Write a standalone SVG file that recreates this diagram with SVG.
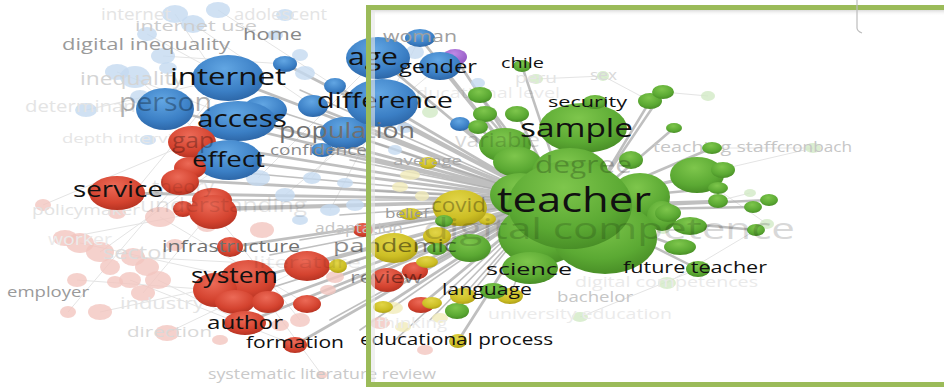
<svg xmlns="http://www.w3.org/2000/svg" width="944" height="389" viewBox="0 0 944 389">
<defs>
<radialGradient id="gB" cx="45%" cy="30%" r="75%"><stop offset="0" stop-color="#62a6e3"/><stop offset="0.65" stop-color="#3b7fc5"/><stop offset="1" stop-color="#2a62a2"/></radialGradient>
<radialGradient id="gR" cx="45%" cy="30%" r="75%"><stop offset="0" stop-color="#ec6a57"/><stop offset="0.65" stop-color="#d4432f"/><stop offset="1" stop-color="#b03020"/></radialGradient>
<radialGradient id="gG" cx="45%" cy="30%" r="75%"><stop offset="0" stop-color="#7ec64c"/><stop offset="0.65" stop-color="#5ba933"/><stop offset="1" stop-color="#458924"/></radialGradient>
<radialGradient id="gY" cx="45%" cy="30%" r="75%"><stop offset="0" stop-color="#e2d548"/><stop offset="0.65" stop-color="#ccbe24"/><stop offset="1" stop-color="#a99a14"/></radialGradient>
<radialGradient id="gP" cx="45%" cy="30%" r="75%"><stop offset="0" stop-color="#c08ae6"/><stop offset="1" stop-color="#8f52c0"/></radialGradient>
<linearGradient id="shadow" x1="0" y1="0" x2="0" y2="1"><stop offset="0" stop-color="#cfcfcf"/><stop offset="1" stop-color="#ffffff" stop-opacity="0"/></linearGradient>
<style>
.b{fill:url(#gB)} .r{fill:url(#gR)} .g{fill:url(#gG)} .y{fill:url(#gY)} .p{fill:url(#gP)}
.fb{fill:#c4daf0;opacity:.8} .fr{fill:#f3c5bf;opacity:.8} .fg{fill:#d2eac5;opacity:.8} .fy{fill:#f1ebb9;opacity:.8}
text{font-family:"Open Sans","DejaVu Sans",sans-serif}
.k{fill:#111} .m{fill:#707070} .g9{fill:#9a9a9a} .la{fill:#c6c6c6} .xl{fill:#e4e4e4}
.sh{fill:#000}
.c{stroke:#a9a9a9;stroke-opacity:.75;fill:none;stroke-linecap:round}
.w{stroke:#e4e4e4;stroke-width:1;fill:none}
</style>
</defs>
<rect width="944" height="389" fill="#ffffff"/>

<g id="connectors">
<g class="w">
<path d="M135 76L229 160M86 110L228 78M117 72L240 120M163 56L285 64M147 34L228 78M175 14L245 118M193 24L313 106M218 10L335 86M65 238L212 210M80 243L248 280M100 252L229 160M133 257L307 266M158 280L245 323M130 280L295 345M77 280L215 290M43 205L192 142M160 217L307 304M100 312L248 280M167 333L307 266M143 293L213 210M117 213L228 78M300 320L212 210M322 375L268 302M68 312L180 180M258 178L378 58M285 195L440 66M330 210L420 38M312 178L345 133"/>
<path d="M697 175L813 148M663 92L708 96M712 148L813 148M697 175L767 224M603 76L650 101M536 79L603 76M667 283L756 230M580 317L698 269M718 201L750 193"/>
</g>
<g class="c" stroke-width="2.8">
<path d="M228 78L548 200M243 118L548 200M229 160L548 200M117 193L548 200M213 210L548 200M230 247L548 200M248 280L548 200M268 302L548 200M245 323L548 200M295 345L548 200M307 266L548 200M307 304L548 200M192 142L548 200M180 180L548 200M313 106L548 200M285 64L548 200M335 86L548 200M345 133L548 200M322 150L548 200M382 103L548 200M378 58L548 200M440 66L548 200M420 38L548 200M455 57L548 200M460 124L548 200M363 230L548 200M387 280L548 200M415 271L548 200M421 305L548 200M394 248L548 200M338 266L548 200M383 307L548 200M458 341L548 200M428 163L548 200M410 214L548 200M183 209L548 200M165 109L548 200"/>
</g>
<g class="c" stroke-width="1.6">
<path d="M232 300L548 200M212 200L548 200M190 168L548 200M275 110L548 200M300 90L548 200M350 160L548 200M360 190L548 200M340 215L548 200M300 240L548 200M270 255L548 200M330 320L548 200M360 330L548 200M395 340L548 200M430 320L548 200M463 296L548 200M510 296L548 200M437 236L548 200M444 221L548 200M437 249L548 200M457 311L548 200"/>
</g>
<g class="c" stroke-width="2.5">
<path d="M522 66L560 180M480 95L560 200M485 114L560 200M517 114L560 200M478 127L560 200M595 102L590 200M650 101L590 200M663 92L590 200M674 128L590 200M712 148L590 200M697 175L590 200M723 170L590 200M718 188L590 200M718 201L590 205M753 207L590 210M769 200L590 208M756 230L590 215M698 269L590 215M680 247L590 215M668 213L590 210M690 226L590 215"/>
</g>
</g>

<g id="faded-nodes">
<g id="n-faded-blue">
<ellipse class="fb" cx="175" cy="14" rx="13" ry="9"/><ellipse class="fb" cx="218" cy="10" rx="12" ry="8"/><ellipse class="fb" cx="193" cy="24" rx="12" ry="9"/><ellipse class="fb" cx="147" cy="34" rx="10" ry="7"/><ellipse class="fb" cx="163" cy="56" rx="12" ry="8"/><ellipse class="fb" cx="168" cy="68" rx="9" ry="6"/><ellipse class="fb" cx="117" cy="72" rx="12" ry="8"/><ellipse class="fb" cx="135" cy="77" rx="15" ry="11"/><ellipse class="fb" cx="86" cy="110" rx="11" ry="7"/><ellipse class="fb" cx="140" cy="97" rx="10" ry="7"/><ellipse class="fb" cx="148" cy="140" rx="8" ry="5"/><ellipse class="fb" cx="275" cy="35" rx="8" ry="5"/><ellipse class="fb" cx="300" cy="55" rx="8" ry="6"/><ellipse class="fb" cx="305" cy="73" rx="10" ry="7"/><ellipse class="fb" cx="258" cy="178" rx="12" ry="8"/><ellipse class="fb" cx="285" cy="195" rx="10" ry="7"/><ellipse class="fb" cx="312" cy="178" rx="9" ry="6"/><ellipse class="fb" cx="330" cy="210" rx="10" ry="6"/><ellipse class="fb" cx="355" cy="205" rx="9" ry="6"/><ellipse class="fb" cx="345" cy="183" rx="8" ry="5"/><ellipse class="fb" cx="300" cy="220" rx="8" ry="5"/><ellipse class="fb" cx="415" cy="52" rx="9" ry="7"/><ellipse class="fb" cx="478" cy="83" rx="7" ry="5"/><ellipse class="fb" cx="405" cy="128" rx="8" ry="5"/><ellipse class="fb" cx="395" cy="150" rx="7" ry="5"/><ellipse class="fb" cx="285" cy="15" rx="9" ry="6"/>
</g>
<g id="n-faded-red">
<ellipse class="fr" cx="65" cy="238" rx="12" ry="8"/><ellipse class="fr" cx="80" cy="243" rx="14" ry="10"/><ellipse class="fr" cx="100" cy="252" rx="14" ry="10"/><ellipse class="fr" cx="110" cy="267" rx="10" ry="8"/><ellipse class="fr" cx="133" cy="257" rx="12" ry="9"/><ellipse class="fr" cx="147" cy="267" rx="12" ry="9"/><ellipse class="fr" cx="158" cy="280" rx="13" ry="9"/><ellipse class="fr" cx="130" cy="280" rx="11" ry="8"/><ellipse class="fr" cx="115" cy="282" rx="8" ry="6"/><ellipse class="fr" cx="77" cy="280" rx="10" ry="7"/><ellipse class="fr" cx="68" cy="312" rx="8" ry="6"/><ellipse class="fr" cx="100" cy="312" rx="12" ry="8"/><ellipse class="fr" cx="143" cy="293" rx="12" ry="8"/><ellipse class="fr" cx="160" cy="217" rx="15" ry="10"/><ellipse class="fr" cx="117" cy="213" rx="9" ry="6"/><ellipse class="fr" cx="43" cy="205" rx="8" ry="6"/><ellipse class="fr" cx="167" cy="333" rx="12" ry="8"/><ellipse class="fr" cx="300" cy="320" rx="10" ry="7"/><ellipse class="fr" cx="322" cy="375" rx="5" ry="4"/><ellipse class="fr" cx="335" cy="277" rx="9" ry="6"/><ellipse class="fr" cx="328" cy="290" rx="8" ry="5"/><ellipse class="fr" cx="207" cy="225" rx="10" ry="7"/><ellipse class="fr" cx="262" cy="230" rx="12" ry="8"/><ellipse class="fr" cx="280" cy="325" rx="9" ry="6"/><ellipse class="fr" cx="380" cy="323" rx="10" ry="6"/><ellipse class="fr" cx="425" cy="350" rx="8" ry="5"/><ellipse class="fr" cx="220" cy="340" rx="8" ry="5"/><ellipse class="fr" cx="175" cy="245" rx="9" ry="6"/>
</g>
<g id="n-faded-yellow">
<ellipse class="fy" cx="410" cy="175" rx="10" ry="5"/><ellipse class="fy" cx="400" cy="187" rx="8" ry="5"/><ellipse class="fy" cx="393" cy="308" rx="10" ry="6"/><ellipse class="fy" cx="440" cy="318" rx="8" ry="5"/><ellipse class="fy" cx="403" cy="327" rx="8" ry="5"/><ellipse class="fy" cx="422" cy="196" rx="7" ry="5"/>
</g>
<g id="n-faded-green">
<ellipse class="fg" cx="536" cy="79" rx="7" ry="5"/><ellipse class="fg" cx="603" cy="76" rx="6" ry="5"/><ellipse class="fg" cx="708" cy="96" rx="7" ry="5"/><ellipse class="fg" cx="813" cy="148" rx="8" ry="5"/><ellipse class="fg" cx="750" cy="193" rx="6" ry="4"/><ellipse class="fg" cx="767" cy="224" rx="7" ry="5"/><ellipse class="fg" cx="667" cy="283" rx="9" ry="6"/><ellipse class="fg" cx="580" cy="317" rx="8" ry="5"/><ellipse class="fg" cx="430" cy="112" rx="8" ry="6"/><ellipse class="fg" cx="415" cy="100" rx="7" ry="5"/><ellipse class="fg" cx="663" cy="229" rx="7" ry="5"/>
</g>
</g>

<g id="faded-labels">
<text class="xl" x="101" y="20" font-size="16" textLength="70" lengthAdjust="spacingAndGlyphs">internet</text>
<text class="xl" x="234" y="20" font-size="16" textLength="93" lengthAdjust="spacingAndGlyphs">adolescent</text>
<text fill="#cdcdcd" x="135" y="31" font-size="15" textLength="122" lengthAdjust="spacingAndGlyphs">internet use</text>
<text class="g9" x="62" y="50" font-size="16" textLength="168" lengthAdjust="spacingAndGlyphs">digital inequality</text>
<text x="243" y="40" font-size="17" fill="#888" textLength="59" lengthAdjust="spacingAndGlyphs">home</text>
<text fill="#d4d4d4" x="80" y="85" font-size="18" textLength="104" lengthAdjust="spacingAndGlyphs">inequality</text>
<text class="xl" x="25" y="112" font-size="17" textLength="118" lengthAdjust="spacingAndGlyphs">determinant</text>
<text fill="#e6e6e6" x="62" y="143" font-size="13" textLength="135" lengthAdjust="spacingAndGlyphs">depth interview</text>
<text fill="#e3e3e3" x="32" y="215" font-size="14" textLength="108" lengthAdjust="spacingAndGlyphs">policymaker</text>
<text fill="#ebebeb" x="48" y="245" font-size="16" textLength="64" lengthAdjust="spacingAndGlyphs">worker</text>
<text fill="#dcdcdc" x="103" y="259" font-size="18" textLength="68" lengthAdjust="spacingAndGlyphs">sector</text>
<text class="g9" x="7" y="297" font-size="14" textLength="82" lengthAdjust="spacingAndGlyphs">employer</text>
<text fill="#e4e4e4" x="120" y="309" font-size="17" textLength="84" lengthAdjust="spacingAndGlyphs">industry</text>
<text fill="#d9d9d9" x="127" y="337" font-size="15" textLength="85" lengthAdjust="spacingAndGlyphs">direction</text>
<text fill="#c9c9c9" x="208" y="379" font-size="14" textLength="228" lengthAdjust="spacingAndGlyphs">systematic literature review</text>
<text class="la" x="653" y="152" font-size="15" textLength="124" lengthAdjust="spacingAndGlyphs">teaching staff</text>
<text class="la" x="777" y="152" font-size="15" textLength="75" lengthAdjust="spacingAndGlyphs">cronbach</text>
<text class="la" x="557" y="302" font-size="14" textLength="76" lengthAdjust="spacingAndGlyphs">bachelor</text>
<text fill="#eaeaea" x="575" y="287" font-size="14" textLength="183" lengthAdjust="spacingAndGlyphs">digital competences</text>
<text fill="#ebebeb" x="488" y="319" font-size="15" textLength="184" lengthAdjust="spacingAndGlyphs">university education</text>
<text fill="#ebebeb" x="377" y="328" font-size="14" textLength="70" lengthAdjust="spacingAndGlyphs">thinking</text>
<text fill="#e4e4e4" x="515" y="83" font-size="15" textLength="42" lengthAdjust="spacingAndGlyphs">peru</text>
<text fill="#d9d9d9" x="590" y="80" font-size="14" textLength="27" lengthAdjust="spacingAndGlyphs">sex</text>
<text class="sh" opacity=".08" x="405" y="98" font-size="15" textLength="155" lengthAdjust="spacingAndGlyphs">educational level</text>
</g>

<g id="n-internet"><ellipse class="b" cx="228" cy="78" rx="36" ry="23"/></g>
<g id="n-person"><ellipse class="b" cx="165" cy="109" rx="29" ry="21"/></g>
<g id="n-access"><ellipse class="b" cx="265" cy="110" rx="22" ry="14"/><ellipse class="b" cx="238" cy="121" rx="38" ry="20"/></g>
<g id="n-blue-small">
<ellipse class="b" cx="313" cy="106" rx="15" ry="11"/><ellipse class="b" cx="285" cy="64" rx="12" ry="8"/><ellipse class="b" cx="335" cy="86" rx="11" ry="8"/><ellipse class="b" cx="322" cy="150" rx="11" ry="7"/><ellipse class="b" cx="460" cy="124" rx="10" ry="7"/><ellipse class="b" cx="420" cy="38" rx="15" ry="9"/><ellipse class="b" cx="345" cy="133" rx="25" ry="16"/>
</g>
<g id="n-purple"><ellipse class="p" cx="455" cy="57" rx="12" ry="8"/></g>
<g id="n-age"><ellipse class="b" cx="378" cy="58" rx="32" ry="21"/></g>
<g id="n-gender"><ellipse class="b" cx="440" cy="66" rx="21" ry="14"/></g>
<g id="n-difference"><ellipse class="b" cx="382" cy="103" rx="36" ry="24"/></g>
<g id="n-gap"><ellipse class="r" cx="192" cy="142" rx="24" ry="16"/></g>
<g id="n-effect"><ellipse class="b" cx="229" cy="160" rx="33" ry="20"/></g>
<g id="n-red-upper">
<ellipse class="r" cx="190" cy="168" rx="16" ry="11"/><ellipse class="r" cx="180" cy="182" rx="19" ry="13"/><ellipse class="r" cx="183" cy="209" rx="10" ry="8"/><ellipse class="r" cx="212" cy="200" rx="20" ry="12"/><ellipse class="r" cx="213" cy="212" rx="24" ry="17"/>
</g>
<g id="n-service"><ellipse class="r" cx="117" cy="193" rx="28" ry="17"/></g>
<g id="n-infrastructure"><ellipse class="r" cx="230" cy="247" rx="13" ry="10"/></g>
<g id="n-system"><ellipse class="r" cx="248" cy="280" rx="28" ry="20"/><ellipse class="r" cx="215" cy="290" rx="22" ry="17"/><ellipse class="r" cx="235" cy="302" rx="20" ry="12"/><ellipse class="r" cx="268" cy="302" rx="16" ry="11"/></g>
<g id="n-red-mid">
<ellipse class="r" cx="307" cy="266" rx="23" ry="15"/><ellipse class="r" cx="307" cy="304" rx="14" ry="9"/><ellipse class="r" cx="363" cy="230" rx="10" ry="7"/><ellipse class="r" cx="387" cy="280" rx="17" ry="12"/><ellipse class="r" cx="415" cy="271" rx="13" ry="9"/><ellipse class="r" cx="421" cy="305" rx="13" ry="8"/>
</g>
<g id="n-author"><ellipse class="r" cx="245" cy="323" rx="21" ry="12"/></g>
<g id="n-formation"><ellipse class="r" cx="295" cy="345" rx="12" ry="8"/></g>

<g id="n-yellow">
<ellipse class="y" cx="428" cy="163" rx="9" ry="6"/><ellipse class="y" cx="410" cy="214" rx="11" ry="6"/><ellipse class="y" cx="487" cy="219" rx="9" ry="6"/><ellipse class="y" cx="437" cy="236" rx="14" ry="9"/><ellipse class="y" cx="338" cy="266" rx="9" ry="7"/><ellipse class="y" cx="427" cy="262" rx="11" ry="6"/><ellipse class="y" cx="383" cy="307" rx="10" ry="6"/><ellipse class="y" cx="432" cy="303" rx="10" ry="6"/>
</g>
<g id="n-covid"><ellipse class="y" cx="460" cy="208" rx="27" ry="18"/></g>
<g id="n-pandemic"><ellipse class="y" cx="394" cy="248" rx="24" ry="15"/></g>

<g id="n-teacher">
<ellipse class="g" cx="505" cy="145" rx="26" ry="17"/><ellipse class="g" cx="517" cy="162" rx="24" ry="15"/>
<ellipse class="g" cx="583" cy="128" rx="44" ry="25"/>
<ellipse class="g" cx="570" cy="172" rx="38" ry="24"/>
<ellipse class="g" cx="631" cy="160" rx="12" ry="9"/>
<ellipse class="g" cx="520" cy="195" rx="30" ry="22"/>
<ellipse class="g" cx="640" cy="197" rx="30" ry="24"/>
<ellipse class="g" cx="662" cy="216" rx="15" ry="15"/>
<ellipse class="g" cx="470" cy="248" rx="21" ry="14"/>
<ellipse class="g" cx="540" cy="235" rx="42" ry="30"/>
<ellipse class="g" cx="605" cy="238" rx="52" ry="36"/>
<ellipse class="g" cx="570" cy="205" rx="62" ry="44"/>
<ellipse class="g" cx="530" cy="268" rx="28" ry="16"/>
</g>
<g id="n-green-small">
<ellipse class="g" cx="522" cy="66" rx="9" ry="6"/><ellipse class="g" cx="480" cy="95" rx="12" ry="8"/><ellipse class="g" cx="485" cy="114" rx="12" ry="8"/><ellipse class="g" cx="517" cy="114" rx="12" ry="8"/><ellipse class="g" cx="478" cy="127" rx="10" ry="7"/><ellipse class="g" cx="595" cy="102" rx="12" ry="7"/><ellipse class="g" cx="650" cy="101" rx="12" ry="8"/><ellipse class="g" cx="663" cy="92" rx="11" ry="7"/><ellipse class="g" cx="674" cy="128" rx="8" ry="5"/><ellipse class="g" cx="712" cy="148" rx="10" ry="6"/><ellipse class="g" cx="697" cy="175" rx="27" ry="18"/><ellipse class="g" cx="723" cy="170" rx="12" ry="8"/><ellipse class="g" cx="718" cy="188" rx="10" ry="6"/><ellipse class="g" cx="718" cy="201" rx="10" ry="7"/><ellipse class="g" cx="753" cy="207" rx="9" ry="6"/><ellipse class="g" cx="769" cy="200" rx="9" ry="6"/><ellipse class="g" cx="756" cy="230" rx="9" ry="6"/><ellipse class="g" cx="668" cy="213" rx="13" ry="9"/><ellipse class="g" cx="690" cy="226" rx="17" ry="9"/><ellipse class="g" cx="680" cy="247" rx="16" ry="8"/><ellipse class="g" cx="698" cy="269" rx="12" ry="8"/><ellipse class="g" cx="444" cy="221" rx="9" ry="6"/><ellipse class="g" cx="437" cy="249" rx="10" ry="6"/><ellipse class="g" cx="457" cy="311" rx="12" ry="8"/>
</g>
<g id="n-language"><ellipse class="y" cx="463" cy="296" rx="13" ry="8"/><ellipse class="y" cx="510" cy="296" rx="13" ry="8"/><ellipse class="g" cx="493" cy="291" rx="13" ry="8"/></g>
<g id="n-educational-process"><ellipse class="y" cx="458" cy="341" rx="9" ry="7"/></g>

<g id="overlay-labels">
<text class="sh" opacity=".3" x="119" y="111" font-size="25" textLength="93" lengthAdjust="spacingAndGlyphs">person</text>
<text class="sh" opacity=".28" x="172" y="148" font-size="22" textLength="42" lengthAdjust="spacingAndGlyphs">gap</text>
<text class="sh" opacity=".1" x="152" y="193" font-size="19" textLength="62" lengthAdjust="spacingAndGlyphs">theory</text>
<text class="sh" opacity=".1" x="140" y="212" font-size="20" textLength="167" lengthAdjust="spacingAndGlyphs">understanding</text>
<text class="sh" opacity=".08" x="253" y="268" font-size="17" textLength="108" lengthAdjust="spacingAndGlyphs">literature</text>
<text fill="#c4c4c4" x="315" y="233" font-size="14" textLength="88" lengthAdjust="spacingAndGlyphs">adaptation</text>
<text class="m" x="279" y="138" font-size="21" textLength="136" lengthAdjust="spacingAndGlyphs">population</text>
<text fill="#8a8a8a" x="270" y="155" font-size="14" textLength="97" lengthAdjust="spacingAndGlyphs">confidence</text>
<text class="m" x="162" y="252" font-size="16" textLength="138" lengthAdjust="spacingAndGlyphs">infrastructure</text>
<text fill="#a0a0a0" x="383" y="42" font-size="16" textLength="74" lengthAdjust="spacingAndGlyphs">woman</text>
<text fill="#a8a8a8" x="393" y="165" font-size="13" textLength="69" lengthAdjust="spacingAndGlyphs">average</text>
<text fill="#999" x="385" y="218" font-size="13" textLength="44" lengthAdjust="spacingAndGlyphs">belief</text>
<text class="sh" opacity=".45" x="333" y="252" font-size="19" textLength="124" lengthAdjust="spacingAndGlyphs">pandemic</text>
<text class="sh" opacity=".42" x="350" y="283" font-size="16" textLength="72" lengthAdjust="spacingAndGlyphs">review</text>
<text class="sh" opacity=".3" x="431" y="212" font-size="20" textLength="55" lengthAdjust="spacingAndGlyphs">covid</text>
<text class="sh" opacity=".15" x="455" y="147" font-size="20" textLength="85" lengthAdjust="spacingAndGlyphs">variable</text>
<text class="sh" opacity=".22" x="535" y="173" font-size="23" textLength="97" lengthAdjust="spacingAndGlyphs">degree</text>
<text class="sh" opacity=".15" x="423" y="239" font-size="30" textLength="372" lengthAdjust="spacingAndGlyphs">digital competence</text>
</g>

<g id="labels">
<text class="k" x="170" y="85" font-size="23" textLength="116" lengthAdjust="spacingAndGlyphs">internet</text>
<text class="k" x="348" y="65" font-size="23" textLength="50" lengthAdjust="spacingAndGlyphs">age</text>
<text class="k" x="399" y="73" font-size="18" textLength="78" lengthAdjust="spacingAndGlyphs">gender</text>
<text class="k" x="317" y="108" font-size="21" textLength="136" lengthAdjust="spacingAndGlyphs">difference</text>
<text class="k" x="197" y="127" font-size="23" textLength="90" lengthAdjust="spacingAndGlyphs">access</text>
<text class="k" x="192" y="167" font-size="21" textLength="73" lengthAdjust="spacingAndGlyphs">effect</text>
<text class="k" x="73" y="197" font-size="21" textLength="90" lengthAdjust="spacingAndGlyphs">service</text>
<text class="k" x="191" y="283" font-size="21" textLength="87" lengthAdjust="spacingAndGlyphs">system</text>
<text class="k" x="207" y="329" font-size="18" textLength="76" lengthAdjust="spacingAndGlyphs">author</text>
<text class="k" x="246" y="348" font-size="17" textLength="98" lengthAdjust="spacingAndGlyphs">formation</text>
<text class="k" x="501" y="68" font-size="14" textLength="43" lengthAdjust="spacingAndGlyphs">chile</text>
<text class="k" x="548" y="107" font-size="15" textLength="79" lengthAdjust="spacingAndGlyphs">security</text>
<text class="k" x="520" y="137" font-size="25" textLength="113" lengthAdjust="spacingAndGlyphs">sample</text>
<text class="k" x="497" y="212" font-size="34" textLength="154" lengthAdjust="spacingAndGlyphs">teacher</text>
<text class="k" x="486" y="275" font-size="17" textLength="86" lengthAdjust="spacingAndGlyphs">science</text>
<text class="k" x="623" y="273" font-size="16" textLength="144" lengthAdjust="spacingAndGlyphs">future teacher</text>
<text class="k" x="442" y="295" font-size="16" textLength="90" lengthAdjust="spacingAndGlyphs">language</text>
<text class="k" x="360" y="345" font-size="16" textLength="193" lengthAdjust="spacingAndGlyphs">educational process</text>
</g>

<g id="frame">
<rect x="370" y="9" width="600" height="7" fill="url(#shadow)"/>
<rect x="371" y="9" width="4" height="374" fill="#e6e6e6" opacity=".6"/>
<rect x="368.5" y="7.5" width="600" height="377" fill="none" stroke="#9bbb59" stroke-width="5"/>
<path d="M857 0V28Q857 31 862 33" fill="none" stroke="#bdbdbd" stroke-width="1.2"/>
</g>
</svg>
